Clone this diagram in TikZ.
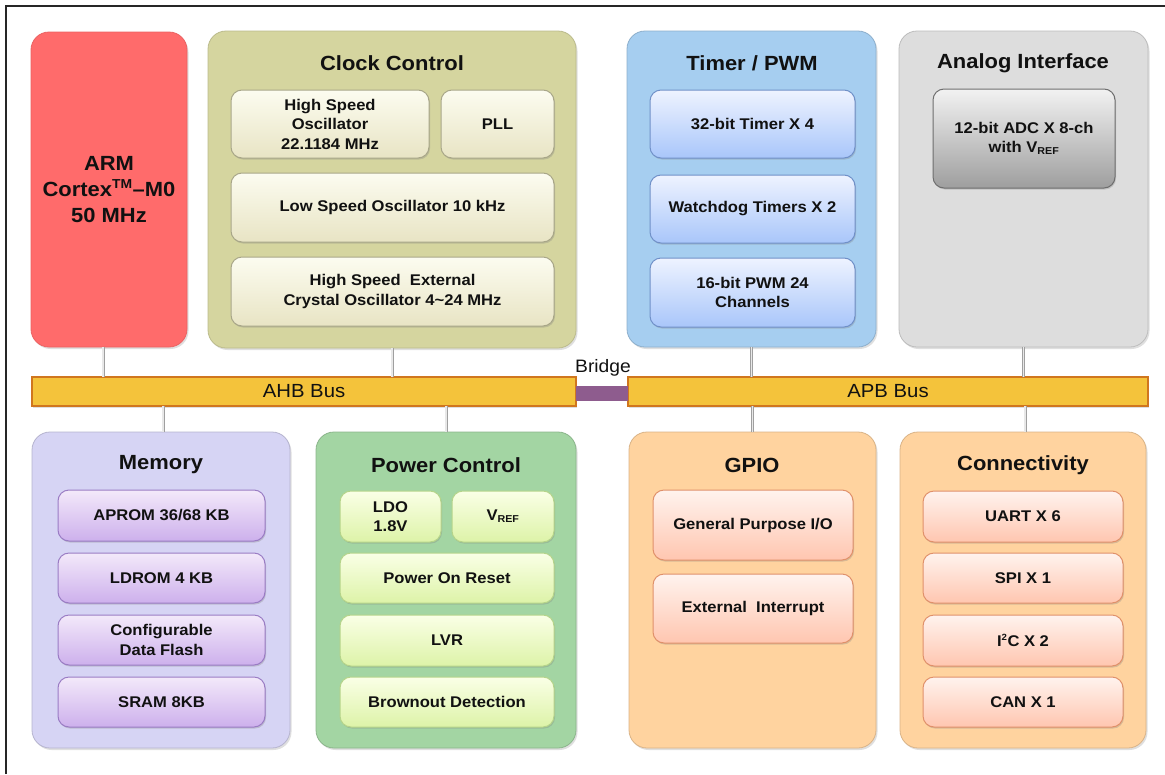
\documentclass[tikz,border=0pt]{standalone}
\usepackage{fontspec}
\setmainfont[FakeStretch=1.07]{Liberation Sans}
\usetikzlibrary{shadows,calc}
\definecolor{armred}{HTML}{FF6B6B}
\definecolor{clkout}{HTML}{D5D59F}
\definecolor{clktop}{HTML}{FCFCF0}
\definecolor{clkbot}{HTML}{E8E4C4}
\definecolor{clkbd}{HTML}{A8A688}
\definecolor{tmout}{HTML}{A6CEF0}
\definecolor{tmtop}{HTML}{EEF3FF}
\definecolor{tmbot}{HTML}{A9C6FA}
\definecolor{tmbd}{HTML}{7090C8}
\definecolor{anout}{HTML}{DDDDDD}
\definecolor{antop}{HTML}{F2F2F2}
\definecolor{anbot}{HTML}{9E9E9E}
\definecolor{anbd}{HTML}{6E6E6E}
\definecolor{meout}{HTML}{D6D4F4}
\definecolor{metop}{HTML}{F3E9FA}
\definecolor{mebot}{HTML}{CDB0EC}
\definecolor{mebd}{HTML}{9A7CC4}
\definecolor{pwout}{HTML}{A3D5A3}
\definecolor{pwtop}{HTML}{FAFFE6}
\definecolor{pwbot}{HTML}{DDF3A8}
\definecolor{pwbd}{HTML}{B5D48A}
\definecolor{gpout}{HTML}{FFD39F}
\definecolor{gptop}{HTML}{FFF3EE}
\definecolor{gpbot}{HTML}{FFC6B0}
\definecolor{gpbd}{HTML}{E0906A}
\definecolor{busfill}{HTML}{F4C33B}
\definecolor{busbd}{HTML}{D0761E}
\definecolor{bridgec}{HTML}{8E5C8E}
\definecolor{txt}{HTML}{111111}
\begin{document}
\begin{tikzpicture}[x=1pt,y=-1pt,
  sz/.style 2 args={minimum width=#1pt, minimum height=#2pt},
  outerbox/.style={rounded corners=18pt, inner sep=0pt, outer sep=0pt, anchor=north west,
    line width=0.8pt, drop shadow={shadow xshift=1.5pt, shadow yshift=-2pt, opacity=0.25}},
  innerbox/.style={rounded corners=11pt, anchor=north west, inner sep=0pt, outer sep=0pt,
    align=center, text=txt, font=\bfseries\fontsize{15.5}{19.5}\selectfont, line width=1pt,
    drop shadow={shadow xshift=1pt, shadow yshift=-1.5pt, opacity=0.3}},
  clkin/.style={innerbox, top color=clktop, bottom color=clkbot, draw=clkbd},
  tmin/.style={innerbox, top color=tmtop, bottom color=tmbot, draw=tmbd},
  anin/.style={innerbox, top color=antop, bottom color=anbot, draw=anbd},
  mein/.style={innerbox, top color=metop, bottom color=mebot, draw=mebd},
  pwin/.style={innerbox, top color=pwtop, bottom color=pwbot, draw=pwbd},
  gpin/.style={innerbox, top color=gptop, bottom color=gpbot, draw=gpbd},
  title/.style={text=txt, font=\bfseries\fontsize{20.5}{24}\selectfont, inner sep=0pt},
  bus/.style={anchor=north west, inner sep=0pt, outer sep=0pt, fill=busfill, draw=busbd,
    line width=1.5pt, font=\fontsize{19}{22}\selectfont, text=txt,
    drop shadow={shadow xshift=1pt, shadow yshift=-1.5pt, opacity=0.25}},
  conn/.style={draw=gray!75, line width=0.7pt, double=gray!18, double distance=1.6pt}
]
\useasboundingbox (0,0) rectangle (1165,774);
\draw[line width=2pt, black!85] (6,774) -- (6,6) -- (1165,6);

% buses
\node[bus, sz={544}{29}] (ahb) at (32,377) {AHB Bus};
\node[bus, sz={520}{29}] (apb) at (628,377) {APB Bus};
\node[anchor=north west, inner sep=0pt, outer sep=0pt, fill=bridgec, sz={52}{15}] (bridge) at (576,386) {};
\node[text=txt, font=\fontsize{18}{20}\selectfont, inner sep=0pt] (bridgeT) at (603,368) {Bridge};

% top row
\node[outerbox, fill=armred, draw=armred!92!black, sz={156}{315}, align=center, text=txt,
  font=\bfseries\fontsize{20.5}{26}\selectfont] (arm) at (31,32)
  {ARM\\Cortex\textsuperscript{\fontsize{13}{13}\selectfont TM}\textendash M0\\50 MHz};

\node[outerbox, fill=clkout, draw=clkout!88!black, sz={368}{317}] (clock) at (208,31) {};
\node[title] (clockT) at (392,63) {Clock Control};
\node[clkin, sz={198}{68}] (hso) at (231,90) {High Speed\\Oscillator\\22.1184 MHz};
\node[clkin, sz={113}{68}] (pll) at (441,90) {PLL};
\node[clkin, sz={323}{69}] (lso) at (231,173) {Low Speed Oscillator 10 kHz};
\node[clkin, sz={323}{69}] (hse) at (231,257) {High Speed\ \ External\\Crystal Oscillator 4\textasciitilde 24 MHz};

\node[outerbox, fill=tmout, draw=tmout!85!black, sz={249}{316}] (timer) at (627,31) {};
\node[title] (timerT) at (752,63) {Timer / PWM};
\node[tmin, sz={205}{68}] (t32) at (650,90) {32-bit Timer X 4};
\node[tmin, sz={205}{68}] (wdt) at (650,175) {Watchdog Timers X 2};
\node[tmin, sz={205}{69}] (pwm) at (650,258) {16-bit PWM 24\\Channels};

\node[outerbox, fill=anout, draw=anout!85!black, sz={249}{316}] (analog) at (899,31) {};
\node[title] (analogT) at (1023,63) {Analog Interface};
\node[anin, sz={182}{99}] (adc) at (933,89) {12-bit ADC X 8-ch\\with V\textsubscript{\fontsize{10}{10}\selectfont REF}};

% bottom row
\node[outerbox, fill=meout, draw=meout!85!black, sz={258}{316}] (memory) at (32,432) {};
\node[title] (memoryT) at (161,465) {Memory};
\node[mein, sz={207}{51}] (aprom) at (58,490) {APROM 36/68 KB};
\node[mein, sz={207}{50}] (ldrom) at (58,553) {LDROM 4 KB};
\node[mein, sz={207}{50}] (cdf) at (58,615) {Configurable\\Data Flash};
\node[mein, sz={207}{50}] (sram) at (58,677) {SRAM 8KB};

\node[outerbox, fill=pwout, draw=pwout!85!black, sz={260}{316}] (power) at (316,432) {};
\node[title] (powerT) at (446,465) {Power Control};
\node[pwin, sz={101}{51}] (ldo) at (340,491) {LDO\\1.8V};
\node[pwin, sz={102}{51}] (vref) at (452,491) {V\textsubscript{\fontsize{10}{10}\selectfont REF}};
\node[pwin, sz={214}{50}] (por) at (340,553) {Power On Reset};
\node[pwin, sz={214}{51}] (lvr) at (340,615) {LVR};
\node[pwin, sz={214}{50}] (bod) at (340,677) {Brownout Detection};

\node[outerbox, fill=gpout, draw=gpout!85!black, sz={247}{316}] (gpio) at (629,432) {};
\node[title] (gpioT) at (752,465) {GPIO};
\node[gpin, sz={200}{70}] (gpi) at (653,490) {General Purpose I/O};
\node[gpin, sz={200}{69}] (exti) at (653,574) {External\ \ Interrupt};

\node[outerbox, fill=gpout, draw=gpout!85!black, sz={246}{316}] (connect) at (900,432) {};
\node[title] (connectT) at (1023,465) {Connectivity};
\node[gpin, sz={200}{51}] (uart) at (923,491) {UART X 6};
\node[gpin, sz={200}{50}] (spi) at (923,553) {SPI X 1};
\node[gpin, sz={200}{51}] (i2c) at (923,615) {I\textsuperscript{\fontsize{9}{9}\selectfont 2}C X 2};
\node[gpin, sz={200}{50}] (can) at (923,677) {CAN X 1};

% connectors
\draw[conn] ([xshift=-6pt]arm.south) -- ([xshift=-6pt]arm.south |- ahb.north);
\draw[conn] (clock.south) -- (clock.south |- ahb.north);
\draw[conn] (timer.south) -- (timer.south |- apb.north);
\draw[conn] (analog.south) -- (analog.south |- apb.north);
\draw[conn] ([xshift=2pt]memory.north) -- ([xshift=2pt]memory.north |- ahb.south);
\draw[conn] (power.north) -- (power.north |- ahb.south);
\draw[conn] (gpio.north) -- (gpio.north |- apb.south);
\draw[conn] ([xshift=2pt]connect.north) -- ([xshift=2pt]connect.north |- apb.south);
\end{tikzpicture}
\end{document}
